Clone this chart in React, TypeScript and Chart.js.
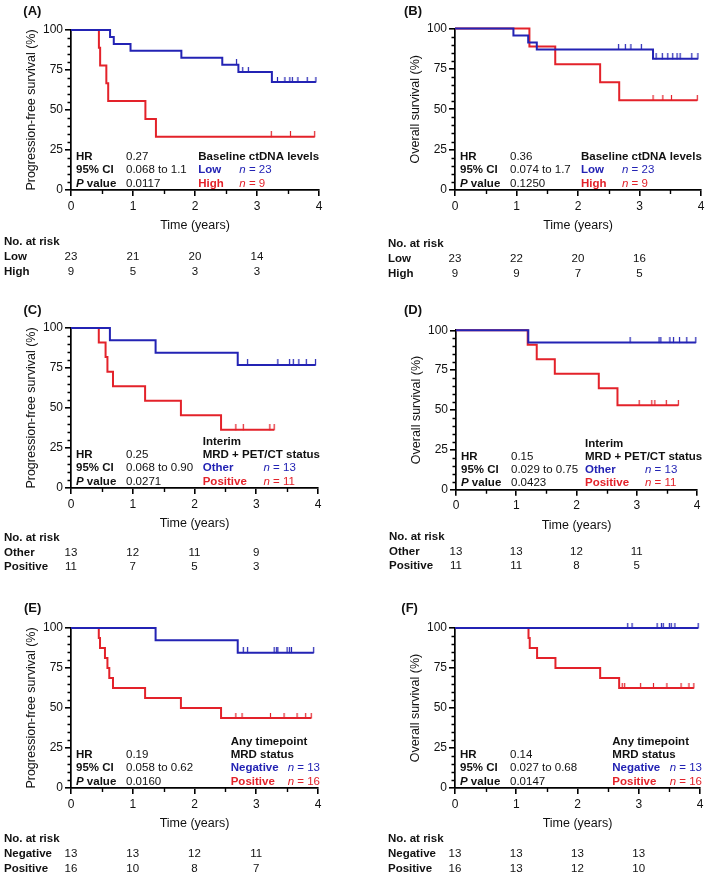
import { useEffect, useRef } from "react";
import { Chart, registerables } from "chart.js";
Chart.register(...registerables);

const FONT = '"Liberation Sans", Arial, Helvetica, sans-serif';
const INK = "#111111";
const BLUE = "#2323b4";
const RED = "#e3222a";

// ---------- shared ticks ----------
const timeTicks = [0, 1, 2, 3, 4];
const survivalTicks = [0, 25, 50, 75, 100];
const riskTimes = [0, 1, 2, 3];

// ---------- Panel A : PFS by baseline ctDNA ----------
const aLowTimes = [0, 0.63, 0.69, 0.96, 1.78, 2.44, 2.7, 3.24, 3.95];
const aLowSurv = [100, 95.7, 91.3, 87.0, 82.6, 78.3, 73.7, 67.5, 67.5];
const aLowCensor = [2.67, 2.77, 2.86, 3.33, 3.45, 3.53, 3.57, 3.66, 3.81, 3.95];
const aHighTimes = [0, 0.45, 0.47, 0.57, 0.6, 1.2, 1.37, 3.93];
const aHighSurv = [100, 88.9, 77.8, 66.7, 55.6, 44.4, 33.3, 33.3];
const aHighCensor = [3.23, 3.54, 3.93];
const aStats = ["0.27", "0.068 to 1.1", "0.0117"];
const aRiskLow = [23, 21, 20, 14];
const aRiskHigh = [9, 5, 3, 3];

// ---------- Panel B : OS by baseline ctDNA ----------
const bLowTimes = [0, 0.95, 1.19, 1.33, 3.22, 3.95];
const bLowSurv = [100, 95.7, 91.3, 87.0, 81.2, 81.2];
const bLowCensor = [2.66, 2.77, 2.86, 3.03, 3.27, 3.37, 3.46, 3.54, 3.61, 3.66, 3.85, 3.95];
const bHighTimes = [0, 1.21, 1.63, 2.36, 2.67, 3.94];
const bHighSurv = [100, 88.9, 77.8, 66.7, 55.6, 55.6];
const bHighCensor = [3.22, 3.38, 3.52, 3.94];
const bStats = ["0.36", "0.074 to 1.7", "0.1250"];
const bRiskLow = [23, 22, 20, 16];
const bRiskHigh = [9, 9, 7, 5];

// ---------- Panel C : PFS by interim MRD + PET/CT ----------
const cOtherTimes = [0, 0.63, 1.37, 2.7, 3.96];
const cOtherSurv = [100, 92.3, 84.6, 76.9, 76.9];
const cOtherCensor = [2.86, 3.35, 3.54, 3.6, 3.69, 3.81, 3.96];
const cPosTimes = [0, 0.45, 0.56, 0.59, 0.68, 1.2, 1.78, 2.43, 3.29];
const cPosSurv = [100, 90.9, 81.8, 72.7, 63.6, 54.5, 45.5, 36.4, 36.4];
const cPosCensor = [2.67, 2.79, 3.22, 3.29];
const cStats = ["0.25", "0.068 to 0.90", "0.0271"];
const cRiskOther = [13, 12, 11, 9];
const cRiskPos = [11, 7, 5, 3];

// ---------- Panel D : OS by interim MRD + PET/CT ----------
const dOtherTimes = [0, 1.2, 3.98];
const dOtherSurv = [100, 92.3, 92.3];
const dOtherCensor = [2.89, 3.37, 3.4, 3.55, 3.61, 3.71, 3.83, 3.98];
const dPosTimes = [0, 1.19, 1.34, 1.64, 2.37, 2.68, 3.69];
const dPosSurv = [100, 90.9, 81.8, 72.7, 63.6, 53.0, 53.0];
const dPosCensor = [3.04, 3.25, 3.3, 3.49, 3.69];
const dStats = ["0.15", "0.029 to 0.75", "0.0423"];
const dRiskOther = [13, 13, 12, 11];
const dRiskPos = [11, 11, 8, 5];

// ---------- Panel E : PFS by any-timepoint MRD ----------
const eNegTimes = [0, 1.37, 2.7, 3.93];
const eNegSurv = [100, 92.3, 84.6, 84.6];
const eNegCensor = [2.79, 2.86, 3.29, 3.33, 3.35, 3.5, 3.54, 3.57, 3.93];
const ePosTimes = [0, 0.45, 0.47, 0.55, 0.59, 0.62, 0.68, 1.2, 1.78, 2.43, 3.89];
const ePosSurv = [100, 93.75, 87.5, 81.25, 75, 68.75, 62.5, 56.25, 50, 43.75, 43.75];
const ePosCensor = [2.67, 2.77, 3.23, 3.45, 3.66, 3.8, 3.89];
const eStats = ["0.19", "0.058 to 0.62", "0.0160"];
const eRiskNeg = [13, 13, 12, 11];
const eRiskPos = [16, 10, 8, 7];

// ---------- Panel F : OS by any-timepoint MRD ----------
const fNegTimes = [0, 3.97];
const fNegSurv = [100, 100];
const fNegCensor = [2.82, 2.89, 3.3, 3.37, 3.4, 3.5, 3.53, 3.59, 3.97];
const fPosTimes = [0, 1.2, 1.22, 1.34, 1.64, 2.37, 2.68, 3.9];
const fPosSurv = [100, 93.75, 87.5, 81.25, 75, 68.75, 62.5, 62.5];
const fPosCensor = [2.73, 2.77, 3.03, 3.24, 3.46, 3.69, 3.82, 3.9];
const fStats = ["0.14", "0.027 to 0.68", "0.0147"];
const fRiskNeg = [13, 13, 13, 13];
const fRiskPos = [16, 13, 12, 10];

// ---------- labels ----------
const statLabels = ["HR", "95% CI", "P value"];
const pfsTitle = "Progression-free survival (%)";
const osTitle = "Overall survival (%)";
const xTitle = "Time (years)";
const ctdnaTitle = ["Baseline ctDNA levels"];
const ctdnaGroups = ["Low", "High"];
const ctdnaN = [23, 9];
const interimTitle = ["Interim", "MRD + PET/CT status"];
const interimGroups = ["Other", "Positive"];
const interimN = [13, 11];
const anyTitle = ["Any timepoint", "MRD status"];
const anyGroups = ["Negative", "Positive"];
const anyN = [13, 16];

type Curve = { times: number[]; surv: number[]; censor: number[]; color: string };
type PanelDef = {
  label: string;
  yTitle: string;
  box: { x: number; y: number; w: number; h: number };
  plot: { L: number; R: number; T: number; B: number };
  curves: Curve[];
  stats: string[];
  groupTitle: string[];
  groups: string[];
  ns: number[];
  risk: number[][];
  lab: { dx: number; dy: number };
  gx: number;
  nx: number;
  r0: number;
  rdy: number;
};

const panels: PanelDef[] = [
  {
    label: "(A)", yTitle: pfsTitle,
    box: { x: 0, y: 0, w: 354, h: 290 }, plot: { L: 71, R: 319, T: 30, B: 190 },
    curves: [
      { times: aLowTimes, surv: aLowSurv, censor: aLowCensor, color: BLUE },
      { times: aHighTimes, surv: aHighSurv, censor: aHighCensor, color: RED },
    ],
    stats: aStats, groupTitle: ctdnaTitle, groups: ctdnaGroups, ns: ctdnaN,
    risk: [aRiskLow, aRiskHigh], lab: { dx: -47.7, dy: -18.3 }, gx: -120.7, nx: -79.7, r0: 52.3, rdy: 14.7,
  },
  {
    label: "(B)", yTitle: osTitle,
    box: { x: 354, y: 0, w: 355, h: 290 }, plot: { L: 455, R: 701, T: 28.5, B: 190 },
    curves: [
      { times: bLowTimes, surv: bLowSurv, censor: bLowCensor, color: BLUE },
      { times: bHighTimes, surv: bHighSurv, censor: bHighCensor, color: RED },
    ],
    stats: bStats, groupTitle: ctdnaTitle, groups: ctdnaGroups, ns: ctdnaN,
    risk: [bRiskLow, bRiskHigh], lab: { dx: -51, dy: -17 }, gx: -120, nx: -79, r0: 54.3, rdy: 14.8,
  },
  {
    label: "(C)", yTitle: pfsTitle,
    box: { x: 0, y: 290, w: 354, h: 290 }, plot: { L: 71, R: 318, T: 328, B: 488 },
    curves: [
      { times: cOtherTimes, surv: cOtherSurv, censor: cOtherCensor, color: BLUE },
      { times: cPosTimes, surv: cPosSurv, censor: cPosCensor, color: RED },
    ],
    stats: cStats, groupTitle: interimTitle, groups: interimGroups, ns: interimN,
    risk: [cRiskOther, cRiskPos], lab: { dx: -47.5, dy: -18 }, gx: -115.3, nx: -54.5, r0: 49.7, rdy: 14.8,
  },
  {
    label: "(D)", yTitle: osTitle,
    box: { x: 354, y: 290, w: 355, h: 290 }, plot: { L: 456, R: 697, T: 330.3, B: 489.7 },
    curves: [
      { times: dOtherTimes, surv: dOtherSurv, censor: dOtherCensor, color: BLUE },
      { times: dPosTimes, surv: dPosSurv, censor: dPosCensor, color: RED },
    ],
    stats: dStats, groupTitle: interimTitle, groups: interimGroups, ns: interimN,
    risk: [dRiskOther, dRiskPos], lab: { dx: -52, dy: -19.8 }, gx: -112, nx: -52, r0: 47.6, rdy: 14.3,
  },
  {
    label: "(E)", yTitle: pfsTitle,
    box: { x: 0, y: 580, w: 354, h: 297 }, plot: { L: 71, R: 318, T: 628, B: 788 },
    curves: [
      { times: eNegTimes, surv: eNegSurv, censor: eNegCensor, color: BLUE },
      { times: ePosTimes, surv: ePosSurv, censor: ePosCensor, color: RED },
    ],
    stats: eStats, groupTitle: anyTitle, groups: anyGroups, ns: anyN,
    risk: [eRiskNeg, eRiskPos], lab: { dx: -47, dy: -19.7 }, gx: -87.3, nx: -30.3, r0: 51.3, rdy: 15,
  },
  {
    label: "(F)", yTitle: osTitle,
    box: { x: 354, y: 580, w: 355, h: 297 }, plot: { L: 455, R: 700, T: 628, B: 788 },
    curves: [
      { times: fNegTimes, surv: fNegSurv, censor: fNegCensor, color: BLUE },
      { times: fPosTimes, surv: fPosSurv, censor: fPosCensor, color: RED },
    ],
    stats: fStats, groupTitle: anyTitle, groups: anyGroups, ns: anyN,
    risk: [fRiskNeg, fRiskPos], lab: { dx: -53.7, dy: -19.7 }, gx: -87.7, nx: -30.3, r0: 51.3, rdy: 15,
  },
];

const Y_AXIS_W = 71;
const X_AXIS_H = 44;
const TXT = 11.5;

function survAt(c: Curve, t: number) {
  let s = c.surv[0];
  for (let i = 0; i < c.times.length; i++) if (c.times[i] <= t + 1e-9) s = c.surv[i];
  return s;
}

function censorMark(color: string) {
  const cv = document.createElement("canvas");
  cv.width = 3;
  cv.height = 11;
  const g = cv.getContext("2d")!;
  g.fillStyle = color;
  g.fillRect(0.9, 0, 1.2, 6);
  return cv;
}

type Run = { t: string; b?: boolean; i?: boolean; c?: string };
function drawRuns(ctx: CanvasRenderingContext2D, x: number, y: number, runs: Run[], size = TXT) {
  let cx = x;
  for (const r of runs) {
    ctx.font = `${r.i ? "italic " : ""}${r.b ? "bold " : ""}${size}px ${FONT}`;
    ctx.fillStyle = r.c || INK;
    ctx.fillText(r.t, cx, y);
    cx += ctx.measureText(r.t).width;
  }
}

function makePlugin(p: PanelDef) {
  return {
    id: "kmDecor",
    afterDraw(chart: any) {
      const ctx: CanvasRenderingContext2D = chart.ctx;
      const { left, right, top, bottom } = chart.chartArea;
      const xs = chart.scales.x;
      const ys = chart.scales.y;
      ctx.save();
      // minor ticks
      ctx.strokeStyle = "#000";
      ctx.lineWidth = 1.4;
      ctx.beginPath();
      for (let v = 5; v < 100; v += 5) {
        if (v % 25 === 0) continue;
        const py = Math.round(ys.getPixelForValue(v)) + 0.5;
        ctx.moveTo(left - 3.5, py);
        ctx.lineTo(left, py);
      }
      for (let v = 0.5; v < 4; v += 1) {
        const px = Math.round(xs.getPixelForValue(v)) + 0.5;
        ctx.moveTo(px, bottom);
        ctx.lineTo(px, bottom + 4);
      }
      ctx.stroke();

      ctx.textBaseline = "middle";
      ctx.textAlign = "left";
      // panel label
      drawRuns(ctx, left + p.lab.dx, top + p.lab.dy, [{ t: p.label, b: true }], 13);

      // stats block
      const rows = [bottom - 46.2, bottom - 33, bottom - 19.8, bottom - 6.6];
      const sx = left + 5;
      const vx = left + 55;
      drawRuns(ctx, sx, rows[1], [{ t: statLabels[0], b: true }]);
      drawRuns(ctx, sx, rows[2], [{ t: statLabels[1], b: true }]);
      drawRuns(ctx, sx, rows[3], [{ t: "P", b: true, i: true }, { t: statLabels[2].slice(1), b: true }]);
      for (let i = 0; i < 3; i++) drawRuns(ctx, vx, rows[i + 1], [{ t: p.stats[i] }]);

      // group legend block
      const gx = right + p.gx;
      const nx = right + p.nx;
      const nt = p.groupTitle.length;
      p.groupTitle.forEach((t, i) => drawRuns(ctx, gx, rows[2 - nt + i], [{ t, b: true }]));
      const cols = [BLUE, RED];
      p.groups.forEach((g, i) => {
        drawRuns(ctx, gx, rows[2 + i], [{ t: g, b: true, c: cols[i] }]);
        drawRuns(ctx, nx, rows[2 + i], [{ t: "n", i: true, c: cols[i] }, { t: " = " + p.ns[i], c: cols[i] }]);
      });

      // number at risk table
      const lx = left - 67;
      drawRuns(ctx, lx, bottom + p.r0, [{ t: "No. at risk", b: true }]);
      p.groups.forEach((g, i) => {
        const ry = bottom + p.r0 + p.rdy * (i + 1);
        ctx.textAlign = "left";
        drawRuns(ctx, lx, ry, [{ t: g, b: true }]);
        ctx.textAlign = "center";
        ctx.font = `${TXT}px ${FONT}`;
        ctx.fillStyle = INK;
        p.risk[i].forEach((v, k) => {
          ctx.fillText(String(v), xs.getPixelForValue(riskTimes[k]), ry);
        });
      });
      ctx.restore();
    },
  };
}

function buildConfig(p: PanelDef): any {
  const datasets: any[] = [];
  p.curves.forEach((c) => {
    datasets.push({
      type: "line",
      data: c.times.map((t, i) => ({ x: t, y: c.surv[i] })),
      borderColor: c.color,
      borderWidth: 2,
      stepped: "before",
      pointRadius: 0,
      fill: false,
      clip: false,
    });
  });
  p.curves.forEach((c) => {
    datasets.push({
      type: "line",
      data: c.censor.map((t) => ({ x: t, y: survAt(c, t) })),
      showLine: false,
      pointStyle: censorMark(c.color),
      pointRadius: 3,
      borderColor: c.color,
      backgroundColor: c.color,
      clip: false,
    });
  });
  const padL = p.plot.L - p.box.x - Y_AXIS_W;
  const tickFont = { size: 12, family: FONT };
  const titleFont = { size: 12.5, family: FONT };
  return {
    type: "line",
    data: { datasets },
    plugins: [makePlugin(p)],
    options: {
      animation: false,
      responsive: false,
      devicePixelRatio: 1,
      events: [],
      layout: {
        padding: {
          left: padL,
          top: p.plot.T - p.box.y,
          right: p.box.x + p.box.w - p.plot.R,
          bottom: p.box.y + p.box.h - p.plot.B - X_AXIS_H,
        },
      },
      plugins: { legend: { display: false }, tooltip: { enabled: false }, title: { display: false } },
      scales: {
        x: {
          type: "linear",
          min: 0,
          max: 4,
          afterBuildTicks: (s: any) => {
            s.ticks = timeTicks.map((v) => ({ value: v }));
          },
          afterFit: (s: any) => {
            s.height = X_AXIS_H;
          },
          ticks: { color: INK, font: tickFont, padding: 3, maxRotation: 0, autoSkip: false },
          grid: { display: true, drawOnChartArea: false, drawTicks: true, tickLength: 6, color: "#000", lineWidth: 1.6 },
          border: { display: true, color: "#000", width: 1.7 },
          title: { display: true, text: xTitle, color: INK, font: titleFont, padding: { top: 0, bottom: 1 } },
        },
        y: {
          type: "linear",
          min: 0,
          max: 100,
          afterBuildTicks: (s: any) => {
            s.ticks = survivalTicks.map((v) => ({ value: v }));
          },
          afterFit: (s: any) => {
            s.width = Y_AXIS_W;
          },
          ticks: { color: INK, font: tickFont, padding: 2 },
          grid: { display: true, drawOnChartArea: false, drawTicks: true, tickLength: 6, color: "#000", lineWidth: 1.6 },
          border: { display: true, color: "#000", width: 1.7 },
          title: { display: true, text: p.yTitle, color: INK, font: titleFont, padding: { top: 24.5, bottom: 0 } },
        },
      },
    },
  };
}

function KMPanel({ p }: { p: PanelDef }) {
  const ref = useRef<HTMLCanvasElement>(null);
  useEffect(() => {
    const chart = new Chart(ref.current as HTMLCanvasElement, buildConfig(p));
    return () => chart.destroy();
  }, [p]);
  return (
    <canvas
      ref={ref}
      width={p.box.w}
      height={p.box.h}
      style={{ position: "absolute", left: p.box.x, top: p.box.y, width: p.box.w, height: p.box.h }}
    />
  );
}

export default function App() {
  return (
    <div style={{ position: "absolute", left: 0, top: 0, width: 709, height: 877, background: "#fff", overflow: "hidden" }}>
      {panels.map((p) => (
        <KMPanel key={p.label} p={p} />
      ))}
    </div>
  );
}
